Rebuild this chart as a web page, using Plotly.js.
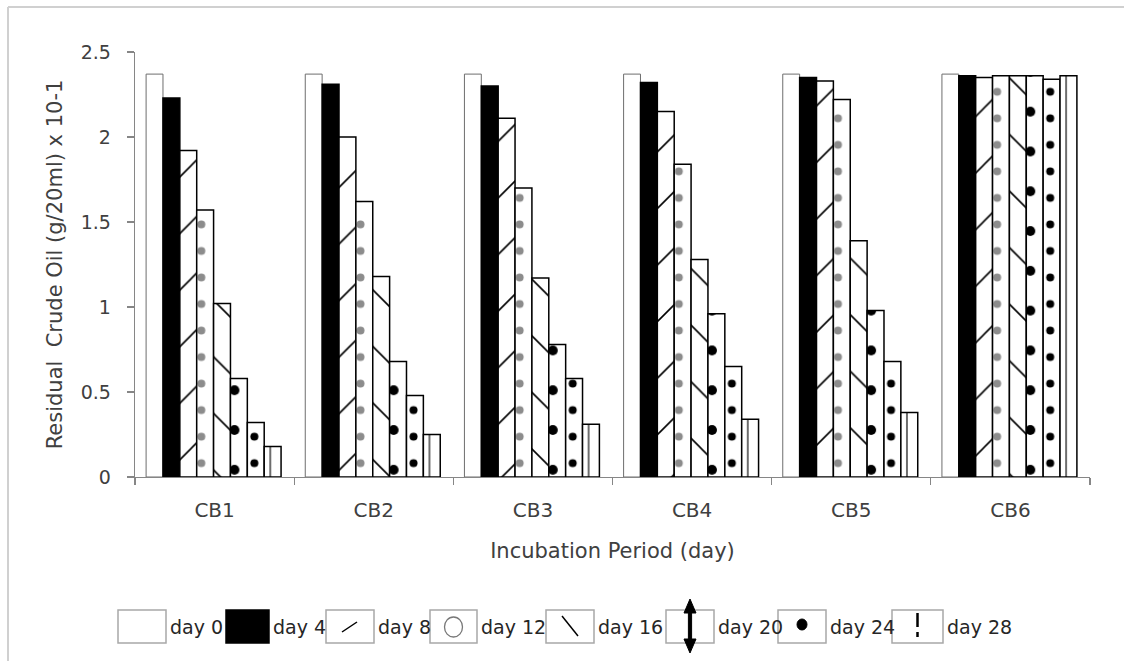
<!DOCTYPE html>
<html><head><meta charset="utf-8">
<script src="https://cdn.plot.ly/plotly-3.0.1.min.js"></script>
<style>html,body{margin:0;padding:0;background:#fff}#chart{width:1124px;height:661px}</style>
</head><body><div id="chart"></div>
<script>
// ---- data ----
const categories = ['CB1', 'CB2', 'CB3', 'CB4', 'CB5', 'CB6'];
const seriesNames = ['day 0', 'day 4', 'day 8', 'day 12', 'day 16', 'day 20', 'day 24', 'day 28'];
const day0  = [2.37, 2.37, 2.37, 2.37, 2.37, 2.37];
const day4  = [2.23, 2.31, 2.30, 2.32, 2.35, 2.36];
const day8  = [1.92, 2.00, 2.11, 2.15, 2.33, 2.35];
const day12 = [1.57, 1.62, 1.70, 1.84, 2.22, 2.36];
const day16 = [1.02, 1.18, 1.17, 1.28, 1.39, 2.36];
const day20 = [0.58, 0.68, 0.78, 0.96, 0.98, 2.36];
const day24 = [0.32, 0.48, 0.58, 0.65, 0.68, 2.34];
const day28 = [0.18, 0.25, 0.31, 0.34, 0.38, 2.36];
const yTickVals = [0, 0.5, 1, 1.5, 2, 2.5];
const yTickText = ['0', '0.5', '1', '1.5', '2', '2.5'];
const xTitle = 'Incubation Period (day)';
const yTitle = 'Residual\u00a0 Crude Oil (g/20ml) x 10-1';
const seriesValues = [day0, day4, day8, day12, day16, day20, day24, day28];

// ---- layout geometry ----
const FIG_W = 1124, FIG_H = 661;
const L = 135, R = 34, T = 52, B = 184;
const PW = FIG_W - L - R, PH = FIG_H - T - B;
const catPx = PW / categories.length;
const bargap = 0.152;
const barW = (1 - bargap) / seriesNames.length;
const shiftData = -1 / catPx;
const groupStart = -0.5 + bargap / 2 + shiftData;

const lineCol = ['#6e6e6e', '#000', '#000', '#000', '#000', '#000', '#000', '#000'];
const lineWid = [1, 1.5, 1.5, 1.5, 1.5, 1.5, 1.5, 1.5];
const fillCol = ['#fff', '#000', '#fff', '#fff', '#fff', '#fff', '#fff', '#fff'];
const patterns = [
  {shape: ''},
  {shape: ''},
  {shape: '/', size: 40, solidity: 0.04, fgcolor: '#000', bgcolor: '#fff'},
  {shape: '.', size: catPx / 6, solidity: Math.PI * 16 / Math.pow(catPx / 6, 2), fgcolor: '#8c8c8c', bgcolor: '#fff'},
  {shape: '\\', size: 40, solidity: 0.04, fgcolor: '#000', bgcolor: '#fff'},
  {shape: '.', size: catPx / 4, solidity: Math.PI * 25 / Math.pow(catPx / 4, 2), fgcolor: '#000', bgcolor: '#fff'},
  {shape: '.', size: catPx / 6, solidity: Math.PI * 16 / Math.pow(catPx / 6, 2), fgcolor: '#000', bgcolor: '#fff'},
  {shape: '|', size: catPx / 10, solidity: 0.12, fgcolor: '#666', bgcolor: '#fff'}
];

const traces = seriesValues.map((vals, i) => ({
  type: 'bar', x: categories, y: vals, name: seriesNames[i],
  offset: groupStart + i * barW, width: barW,
  marker: {color: fillCol[i], line: {color: lineCol[i], width: lineWid[i]}, pattern: patterns[i]},
  hoverinfo: 'skip', showlegend: false
}));

// ---- custom legend (large swatches) ----
function px(x) { return (x - L) / PW; }
function py(y) { return (T + PH - y) / PH; }
const shapes = [];
const annotations = [];
// outer frame (left + top)
shapes.push({type: 'line', xref: 'paper', yref: 'paper', x0: px(8), y0: py(661), x1: px(8), y1: py(7), line: {color: '#d0d0d0', width: 2}});
shapes.push({type: 'line', xref: 'paper', yref: 'paper', x0: px(8), y0: py(7), x1: px(1124), y1: py(7), line: {color: '#d0d0d0', width: 2}});

const boxLeft = [118, 226, 326, 430, 546, 666, 778, 892];
const boxWid = [48, 43, 48, 47, 48, 48, 48, 51];
const boxTop = 610, boxBot = 643, midY = 627;
seriesNames.forEach((nm, i) => {
  const bx = boxLeft[i], bw = boxWid[i], cx = bx + bw / 2;
  shapes.push({type: 'rect', xref: 'paper', yref: 'paper', x0: px(bx), x1: px(bx + bw), y0: py(boxBot), y1: py(boxTop),
    fillcolor: i === 1 ? '#000' : '#fff', line: {color: i === 1 ? '#000' : '#a8a8a8', width: 1.5}});
  if (i === 2) shapes.push({type: 'line', xref: 'paper', yref: 'paper', x0: px(cx - 8), y0: py(632), x1: px(cx + 7), y1: py(622), line: {color: '#000', width: 1.5}});
  if (i === 3) shapes.push({type: 'circle', xref: 'paper', yref: 'paper', x0: px(cx - 9), x1: px(cx + 9), y0: py(637), y1: py(617), line: {color: '#777', width: 1.3}});
  if (i === 4) shapes.push({type: 'line', xref: 'paper', yref: 'paper', x0: px(cx - 8), y0: py(616), x1: px(cx + 8), y1: py(636), line: {color: '#000', width: 1.5}});
  if (i === 5) {
    const a = px(cx), l6 = px(cx - 6), r6 = px(cx + 6), l2 = px(cx - 1.6), r2 = px(cx + 1.6);
    const p = 'M' + a + ',' + py(599) + ' L' + r6 + ',' + py(613) + ' L' + r2 + ',' + py(613) + ' L' + r2 + ',' + py(639) +
      ' L' + r6 + ',' + py(639) + ' L' + a + ',' + py(653) + ' L' + l6 + ',' + py(639) + ' L' + l2 + ',' + py(639) +
      ' L' + l2 + ',' + py(613) + ' L' + l6 + ',' + py(613) + ' Z';
    shapes.push({type: 'path', xref: 'paper', yref: 'paper', path: p, fillcolor: '#000', line: {color: '#000', width: 1}});
  }
  if (i === 6) shapes.push({type: 'circle', xref: 'paper', yref: 'paper', x0: px(cx - 5), x1: px(cx + 5), y0: py(630), y1: py(619), fillcolor: '#000', line: {color: '#000', width: 1}});
  if (i === 7) {
    shapes.push({type: 'line', xref: 'paper', yref: 'paper', x0: px(cx), x1: px(cx), y0: py(613), y1: py(627), line: {color: '#000', width: 2.5}});
    shapes.push({type: 'line', xref: 'paper', yref: 'paper', x0: px(cx), x1: px(cx), y0: py(632), y1: py(637), line: {color: '#000', width: 2.5}});
  }
  annotations.push({xref: 'paper', yref: 'paper', x: px(bx + bw + 2), y: py(midY), xanchor: 'left', yanchor: 'middle',
    text: nm, showarrow: false, font: {family: 'DejaVu Sans', size: 19, color: '#262626'}});
});

const axisGray = '#868686';
const layout = {
  width: FIG_W, height: FIG_H,
  margin: {l: L, r: R, t: T, b: B, pad: 0},
  paper_bgcolor: '#fff', plot_bgcolor: '#fff',
  barmode: 'overlay',
  showlegend: false,
  font: {family: 'DejaVu Sans', color: '#404040'},
  xaxis: {
    type: 'category', range: [-0.5, categories.length - 0.5], automargin: false,
    showline: true, linecolor: axisGray, linewidth: 1.3,
    ticks: 'outside', tickson: 'boundaries', ticklen: 7, tickcolor: axisGray, tickwidth: 1.3, ticklabelstandoff: 15,
    tickfont: {size: 20, color: '#404040'}, showgrid: false, zeroline: false,
    title: {text: xTitle, font: {size: 21, color: '#404040'}, standoff: 22}
  },
  yaxis: {
    range: [0, 2.5], tickvals: yTickVals, ticktext: yTickText, automargin: false,
    showline: true, linecolor: axisGray, linewidth: 1.3,
    ticks: 'outside', ticklen: 7, tickcolor: axisGray, tickwidth: 1.3, ticklabelstandoff: 12,
    tickfont: {size: 19, color: '#404040'}, showgrid: false, zeroline: false,
    title: {text: yTitle, font: {size: 21, color: '#404040'}, standoff: 12}
  },
  shapes: shapes,
  annotations: annotations
};

Plotly.newPlot('chart', traces, layout, {displayModeBar: false, staticPlot: true});
</script>
</body></html>
